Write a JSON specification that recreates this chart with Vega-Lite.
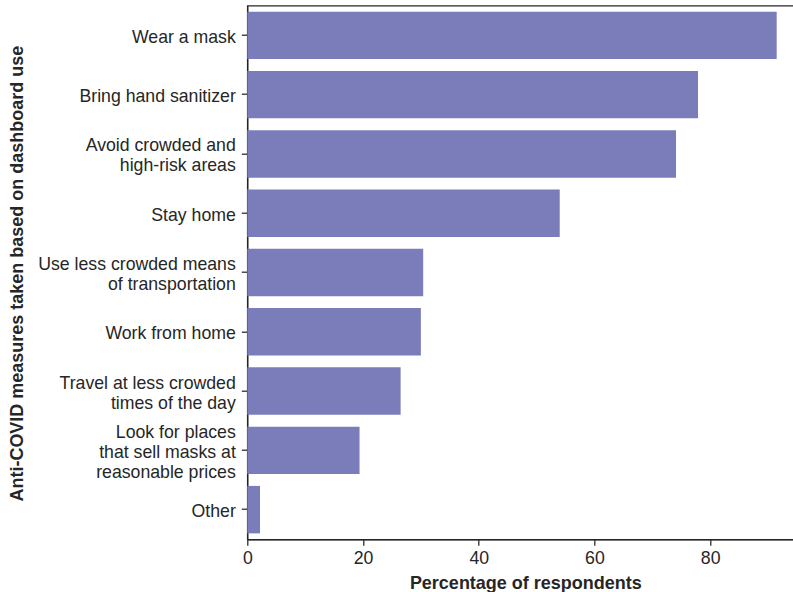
{
  "$schema": "https://vega.github.io/schema/vega-lite/v6.json",
  "width": 556,
  "height": 533.6,
  "autosize": {"type": "none"},
  "padding": {"left": 247.3, "top": 5.7, "right": 0, "bottom": 52.7},
  "background": "white",
  "config": {
    "view": {"stroke": "#262626", "strokeWidth": 1.25},
    "font": "Liberation Sans",
    "axis": {
      "domainColor": "#262626",
      "domainWidth": 1.25,
      "tickColor": "#262626",
      "tickWidth": 1.25,
      "tickSize": 6,
      "labelFontSize": 17.7,
      "labelColor": "#262626",
      "labelFont": "Liberation Sans",
      "titleFont": "Liberation Sans",
      "titleFontSize": 18,
      "titleFontWeight": "bold",
      "titleColor": "#262626",
      "grid": false
    }
  },
  "data": {
    "values": [
      {"measure": "Wear a mask", "pct": 91.5},
      {"measure": "Bring hand sanitizer", "pct": 77.9},
      {"measure": "Avoid crowded and|high-risk areas", "pct": 74.1},
      {"measure": "Stay home", "pct": 54.0},
      {"measure": "Use less crowded means|of transportation", "pct": 30.4},
      {"measure": "Work from home", "pct": 30.0},
      {"measure": "Travel at less crowded|times of the day", "pct": 26.5},
      {"measure": "Look for places|that sell masks at|reasonable prices", "pct": 19.4},
      {"measure": "Other", "pct": 2.2}
    ]
  },
  "mark": {"type": "bar", "color": "#7b7cba"},
  "encoding": {
    "y": {
      "field": "measure",
      "type": "nominal",
      "sort": null,
      "scale": {"paddingInner": 0.2, "paddingOuter": 0.1},
      "axis": {
        "title": "Anti-COVID measures taken based on dashboard use",
        "labelExpr": "split(datum.label, '|')",
        "labelLineHeight": 20,
        "labelPadding": 6,
        "labelLimit": 400,
        "labelOffset": {"expr": "2.5 - (length(split(datum.value, '|')) - 1) * 10"},
        "titleX": -229.8,
        "titleY": 267.5,
        "titleAngle": -90,
        "titleAlign": "center",
        "titleBaseline": "middle"
      }
    },
    "x": {
      "field": "pct",
      "type": "quantitative",
      "scale": {"domain": [0, 96.1], "nice": false},
      "axis": {
        "title": "Percentage of respondents",
        "values": [0, 20, 40, 60, 80],
        "labelFlush": false,
        "labelPadding": 4,
        "titlePadding": 8
      }
    }
  }
}
